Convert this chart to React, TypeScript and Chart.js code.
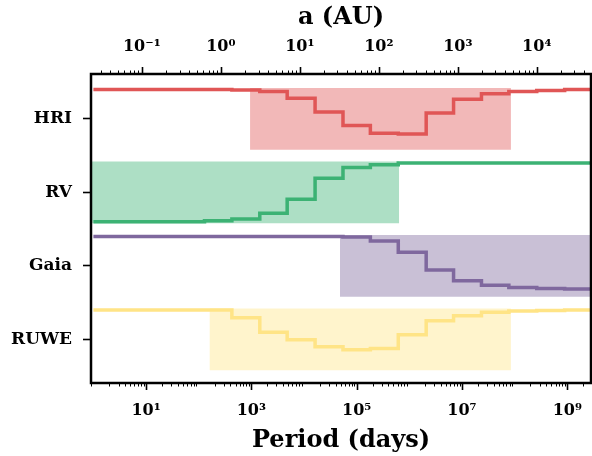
import React, { useEffect, useRef } from 'react';
import { Chart, registerables } from 'chart.js';

Chart.register(...registerables);

// Categories on the y axis (index = y value)
const CATEGORIES = ['RUWE', 'Gaia', 'RV', 'HRI'];

// Bin edges in log10(period / days)
const LOG_PERIOD_EDGES = [0, 0.53, 1.05, 1.58, 2.11, 2.63, 3.16, 3.68, 4.21, 4.74, 5.26, 5.79, 6.32, 6.84, 7.37, 7.89, 8.42, 8.95, 9.47, 10];

// Step values per bin (0 = bottom of band, 1 = top of band)
const HRI_VALUES = [1, 1, 1, 1, 1, 0.99, 0.965, 0.85, 0.615, 0.385, 0.255, 0.24, 0.6, 0.835, 0.925, 0.965, 0.98, 1, 1];
const RV_VALUES = [0, 0, 0, 0, 0.015, 0.045, 0.145, 0.38, 0.74, 0.92, 0.97, 1, 1, 1, 1, 1, 1, 1, 1];
const GAIA_VALUES = [1, 1, 1, 1, 1, 1, 1, 1, 1, 0.99, 0.92, 0.73, 0.43, 0.245, 0.17, 0.13, 0.115, 0.105, 0.1];
const RUWE_VALUES = [1, 1, 1, 1, 1, 0.865, 0.62, 0.49, 0.375, 0.32, 0.345, 0.575, 0.815, 0.9, 0.96, 0.98, 0.99, 1, 1];

// Shaded period ranges (days)
const HRI_RANGE = [945, 8.5e7];
const RV_RANGE = [0.1, 6.4e5];
const GAIA_RANGE = [4.8e4, 1e11];
const RUWE_RANGE = [160, 8.5e7];

// Axes
const PERIOD_MIN = 0.9;
const PERIOD_MAX = 2.82e9;
const PERIOD_AT_1AU = 263;
const BOTTOM_TICKS = [1e1, 1e3, 1e5, 1e7, 1e9];
const TOP_TICKS = [0.1, 1, 10, 100, 1000, 10000];

const COLORS = {
  HRI: [224, 86, 86],
  RV: [60, 178, 116],
  Gaia: [127, 104, 158],
  RUWE: [255, 228, 134],
};

const SUP: Record<string, string> = {
  '-': '⁻', '0': '⁰', '1': '¹', '2': '²', '3': '³', '4': '⁴', '5': '⁵', '6': '⁶', '7': '⁷', '8': '⁸', '9': '⁹',
};

function pow10Label(v: number): string {
  const e = Math.round(Math.log10(v));
  return '10' + String(e).split('').map((c) => SUP[c]).join('');
}

const FONT = 'DejaVu Serif';

const frameAndTicks = {
  id: 'frameAndTicks',
  afterDraw(chart: any) {
    const { ctx, chartArea: a, scales } = chart;
    ctx.save();
    ctx.strokeStyle = '#000';
    const drawLog = (scale: any, y0: number, dir: number, majorTest: (n: number) => boolean) => {
      const lo = scale.min;
      const hi = scale.max;
      for (let n = Math.floor(Math.log10(lo)); n <= Math.ceil(Math.log10(hi)); n++) {
        for (let m = 1; m <= 9; m++) {
          const v = m * Math.pow(10, n);
          if (v < lo || v > hi) continue;
          const major = m === 1 && majorTest(n);
          if (m === 1 && !major) continue;
          const px = Math.round(scale.getPixelForValue(v)) + 0.5;
          ctx.lineWidth = major ? 1.6 : 1;
          const len = major ? 7 : 3.5;
          ctx.beginPath();
          ctx.moveTo(px, y0);
          ctx.lineTo(px, y0 + dir * len);
          ctx.stroke();
        }
      }
    };
    drawLog(scales.x, a.bottom, 1, (n) => Math.abs(n % 2) === 1);
    drawLog(scales.x2, a.top, -1, () => true);
    ctx.lineWidth = 2.5;
    ctx.strokeRect(a.left, a.top, a.right - a.left, a.bottom - a.top);
    ctx.restore();
  },
};

export default function App() {
  const ref = useRef<HTMLCanvasElement | null>(null);

  useEffect(() => {
    if (!ref.current) return;
    const series = [
      { name: 'HRI', values: HRI_VALUES, range: HRI_RANGE },
      { name: 'RV', values: RV_VALUES, range: RV_RANGE },
      { name: 'Gaia', values: GAIA_VALUES, range: GAIA_RANGE },
      { name: 'RUWE', values: RUWE_VALUES, range: RUWE_RANGE },
    ];
    const datasets: any[] = [];
    series.forEach((s) => {
      const c = CATEGORIES.indexOf(s.name);
      const [r, g, b] = (COLORS as any)[s.name];
      datasets.push({
        label: s.name + ' range',
        data: [
          { x: s.range[0], y: c + 0.42 },
          { x: s.range[1], y: c + 0.42 },
        ],
        fill: { value: c - 0.42 },
        backgroundColor: `rgba(${r},${g},${b},0.42)`,
        borderWidth: 0,
        pointRadius: 0,
        order: 2,
      });
    });
    series.forEach((s) => {
      const c = CATEGORIES.indexOf(s.name);
      const [r, g, b] = (COLORS as any)[s.name];
      const pts = s.values.map((v, k) => ({ x: Math.pow(10, LOG_PERIOD_EDGES[k]), y: c - 0.4 + 0.8 * v }));
      pts.push({
        x: Math.pow(10, LOG_PERIOD_EDGES[LOG_PERIOD_EDGES.length - 1]),
        y: c - 0.4 + 0.8 * s.values[s.values.length - 1],
      });
      datasets.push({
        label: s.name,
        data: pts,
        stepped: 'before',
        borderColor: `rgb(${r},${g},${b})`,
        borderWidth: 3.5,
        borderJoinStyle: 'miter',
        borderCapStyle: 'butt',
        pointRadius: 0,
        fill: false,
        order: 1,
      });
    });

    const aMin = Math.pow(PERIOD_MIN / PERIOD_AT_1AU, 2 / 3);
    const aMax = Math.pow(PERIOD_MAX / PERIOD_AT_1AU, 2 / 3);

    const fitX = (h: number) => (s: any) => {
      s.height = h;
      s.paddingLeft = 0;
      s.paddingRight = 0;
    };

    const chart = new Chart(ref.current, {
      type: 'line',
      data: { datasets },
      options: {
        animation: false,
        responsive: false,
        devicePixelRatio: 1,
        layout: { padding: { left: 0, right: 1, top: 0, bottom: 0 } },
        plugins: { legend: { display: false }, tooltip: { enabled: false } },
        scales: {
          x: {
            type: 'logarithmic',
            position: 'bottom',
            min: PERIOD_MIN,
            max: PERIOD_MAX,
            afterBuildTicks: (s: any) => {
              s.ticks = BOTTOM_TICKS.map((v) => ({ value: v }));
            },
            ticks: {
              callback: (v: any) => pow10Label(Number(v)),
              font: { family: FONT, size: 16, weight: 'bold' },
              color: '#000',
              padding: 18,
              maxRotation: 0,
              autoSkip: false,
            },
            grid: { display: false, drawTicks: false },
            border: { display: false },
            title: {
              display: true,
              text: 'Period (days)',
              font: { family: FONT, size: 24, weight: 'bold', lineHeight: 1 },
              color: '#000',
              padding: { top: 0, bottom: 3 },
            },
            afterFit: fitX(73),
          },
          x2: {
            type: 'logarithmic',
            position: 'top',
            min: aMin,
            max: aMax,
            afterBuildTicks: (s: any) => {
              s.ticks = TOP_TICKS.map((v) => ({ value: v }));
            },
            ticks: {
              callback: (v: any) => pow10Label(Number(v)),
              font: { family: FONT, size: 16, weight: 'bold' },
              color: '#000',
              padding: 18,
              maxRotation: 0,
              autoSkip: false,
            },
            grid: { display: false, drawTicks: false },
            border: { display: false },
            title: {
              display: true,
              text: 'a (AU)',
              font: { family: FONT, size: 24, weight: 'bold', lineHeight: 1 },
              color: '#000',
              padding: { top: 6, bottom: 0 },
            },
            afterFit: fitX(74),
          },
          y: {
            type: 'linear',
            min: -0.595,
            max: 3.61,
            afterBuildTicks: (s: any) => {
              s.ticks = CATEGORIES.map((_, i) => ({ value: i }));
            },
            ticks: {
              callback: (v: any) => CATEGORIES[Math.round(Number(v))],
              font: { family: FONT, size: 17, weight: 'bold' },
              color: '#000',
              padding: 11,
              autoSkip: false,
            },
            grid: { drawOnChartArea: false, tickLength: 8, tickColor: '#000', tickWidth: 1.6 },
            border: { display: false },
            afterFit: (s: any) => {
              s.width = 91;
              s.paddingTop = 0;
              s.paddingBottom = 0;
            },
          },
        },
      } as any,
      plugins: [frameAndTicks],
    });
    return () => chart.destroy();
  }, []);

  return (
    <div style={{ position: 'fixed', left: 0, top: 0, width: 592, height: 456, background: '#fff' }}>
      <canvas ref={ref} width={592} height={456} style={{ display: 'block', width: 592, height: 456 }} />
    </div>
  );
}
